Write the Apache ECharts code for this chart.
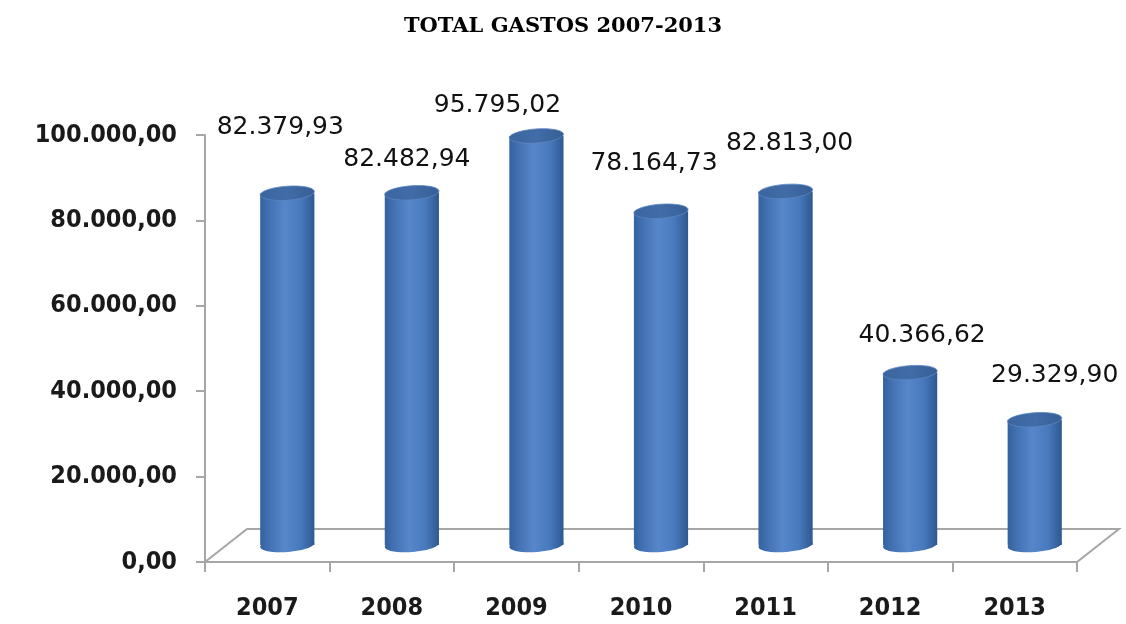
<!DOCTYPE html>
<html>
<head>
<meta charset="utf-8">
<title>TOTAL GASTOS 2007-2013</title>
<script src="https://cdn.jsdelivr.net/npm/echarts@6/dist/echarts.min.js"></script>
<style>
  html, body { margin: 0; padding: 0; background: #ffffff; }
  #chart { width: 1126px; height: 624px; }
</style>
</head>
<body>
<div id="chart"></div>
<script>
// Annual spending totals
const years = ['2007', '2008', '2009', '2010', '2011', '2012', '2013'];
const totals = [82379.93, 82482.94, 95795.02, 78164.73, 82813.00, 40366.62, 29329.90];
const yTicks = [0, 20000, 40000, 60000, 80000, 100000];

// Small per-label nudges (px) so value labels sit the way the 3D layout places them
const labelNudgeX = [-7, -5, -39, -7, 4, 12, 20];
const labelNudgeY = [-66, -33, -30, -48, -48, -37, -44];

// Depth of the 3D floor and the cylinder offset into it
const DEPTH_X = 42, DEPTH_Y = -33;
const BAR_DX = 20, BAR_DY = -17;

function fmtEs(v) {
  const parts = v.toFixed(2).split('.');
  parts[0] = parts[0].replace(/\B(?=(\d{3})+(?!\d))/g, '.');
  return parts[0] + ',' + parts[1];
}

const chart = echarts.init(document.getElementById('chart'));

const bodyGradient = new echarts.graphic.LinearGradient(0, 0, 1, 0, [
  { offset: 0, color: '#33629f' },
  { offset: 0.15, color: '#426fb0' },
  { offset: 0.45, color: '#5787ca' },
  { offset: 0.75, color: '#4879bd' },
  { offset: 1, color: '#2e5890' }
]);
const topGradient = new echarts.graphic.LinearGradient(0, 0, 1, 0, [
  { offset: 0, color: '#3a659f' },
  { offset: 0.5, color: '#426ca7' },
  { offset: 1, color: '#365f97' }
]);

chart.setOption({
  animation: false,
  title: {
    text: 'TOTAL GASTOS 2007-2013',
    left: 'center',
    top: 11,
    textStyle: {
      fontFamily: 'DejaVu Serif',
      fontWeight: 'bold',
      fontSize: 21,
      color: '#000000'
    }
  },
  grid: { left: 205, right: 49, top: 135, bottom: 62 },
  xAxis: {
    type: 'category',
    data: years,
    axisLine: { lineStyle: { color: '#a6a6a6', width: 2 } },
    axisTick: { show: true, length: 10, lineStyle: { color: '#a6a6a6', width: 2 } },
    axisLabel: {
      margin: 34,
      fontFamily: 'DejaVu Sans Condensed, DejaVu Sans',
      fontWeight: 'bold',
      fontSize: 25,
      color: '#1a1a1a'
    },
    splitLine: { show: false }
  },
  yAxis: {
    type: 'value',
    min: yTicks[0],
    max: yTicks[yTicks.length - 1],
    interval: yTicks[1] - yTicks[0],
    axisLine: { show: true, lineStyle: { color: '#a6a6a6', width: 2 } },
    axisTick: { show: true, length: 9, lineStyle: { color: '#a6a6a6', width: 2 } },
    axisLabel: {
      margin: 28,
      fontFamily: 'DejaVu Sans Condensed, DejaVu Sans',
      fontWeight: 'bold',
      fontSize: 25,
      color: '#1a1a1a',
      formatter: v => fmtEs(v)
    },
    splitLine: { show: false }
  },
  series: [
    {
      // 3D floor under the bars
      type: 'custom',
      z: 1,
      silent: true,
      data: [[0, 0]],
      renderItem: function (params, api) {
        const band = api.size([1, 0])[0];
        const first = api.coord([0, 0]);
        const last = api.coord([years.length - 1, 0]);
        const x0 = first[0] - band / 2;
        const x1 = last[0] + band / 2;
        const y = first[1];
        return {
          type: 'polygon',
          shape: {
            points: [[x0, y], [x1, y], [x1 + DEPTH_X, y + DEPTH_Y], [x0 + DEPTH_X, y + DEPTH_Y]]
          },
          style: { fill: '#ffffff', stroke: '#a6a6a6', lineWidth: 2 }
        };
      }
    },
    {
      // cylinders with value labels
      type: 'custom',
      z: 3,
      data: totals.map((v, i) => [i, v]),
      encode: { x: 0, y: 1 },
      renderItem: function (params, api) {
        const i = api.value(0);
        const v = api.value(1);
        const top = api.coord([i, v]);
        const base = api.coord([i, 0]);
        const band = api.size([1, 0])[0];
        const w = band * 0.435;
        const cx = top[0] + BAR_DX;
        const yTop = top[1] + BAR_DY;
        const yBase = base[1] + BAR_DY;
        const rx = w / 2;
        const ry = 7;
        const tilt = 0.07;
        return {
          type: 'group',
          children: [
            {
              type: 'ellipse',
              shape: { cx: cx, cy: yBase, rx: rx, ry: ry },
              rotation: tilt,
              originX: cx,
              originY: yBase,
              style: { fill: bodyGradient }
            },
            {
              type: 'rect',
              shape: { x: cx - rx, y: yTop, width: w, height: yBase - yTop },
              style: { fill: bodyGradient }
            },
            {
              type: 'ellipse',
              shape: { cx: cx, cy: yTop, rx: rx, ry: ry },
              rotation: tilt,
              originX: cx,
              originY: yTop,
              style: { fill: topGradient, stroke: '#5a86c0', lineWidth: 0.8 }
            },
            {
              type: 'text',
              x: cx + labelNudgeX[i],
              y: yTop + labelNudgeY[i],
              style: {
                text: fmtEs(v),
                align: 'center',
                verticalAlign: 'middle',
                fontFamily: 'DejaVu Sans',
                fontSize: 25,
                fill: '#111111'
              }
            }
          ]
        };
      }
    }
  ]
});
</script>
</body>
</html>
